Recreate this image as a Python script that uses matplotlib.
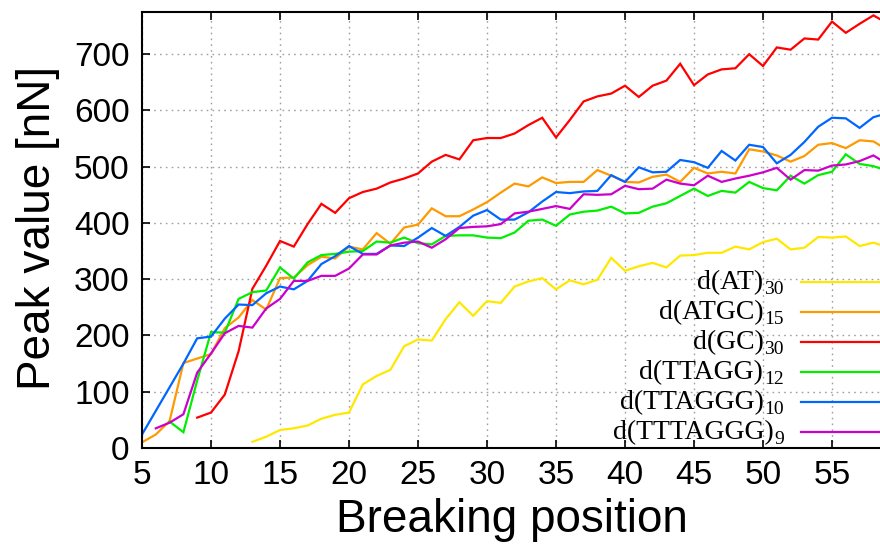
import matplotlib
matplotlib.use("Agg")
import matplotlib.pyplot as plt
from matplotlib.lines import Line2D

# ---- data ----
x_at = list(range(13, 60))
y_at = [11, 20, 32, 35, 40, 52, 59, 63, 113, 128, 139, 181, 193, 191, 229, 259, 235, 261, 258,
        287, 296, 302, 282, 298, 291, 299, 338, 315, 323, 329, 321, 342, 343, 347, 347, 358,
        353, 366, 372, 353, 356, 375, 374, 376, 359, 365, 357]

x_atgc = list(range(5, 60))
y_atgc = [10, 24, 48, 151, 159, 167, 213, 232, 263, 246, 302, 303, 325, 340, 337, 358, 353, 382,
          363, 392, 397, 426, 412, 412, 424, 437, 454, 470, 465, 481, 471, 473, 473, 494, 484,
          473, 472, 482, 486, 473, 498, 488, 491, 488, 531, 527, 520, 509, 519, 539, 542, 533,
          547, 545, 530]

x_gc = list(range(9, 60))
y_gc = [54, 63, 95, 172, 283, 324, 368, 358, 398, 434, 418, 444, 455, 461, 472, 479, 488, 509,
        521, 513, 547, 551, 551, 559, 574, 587, 552, 583, 616, 625, 630, 644, 624, 644, 653,
        683, 645, 664, 673, 675, 700, 679, 712, 708, 728, 726, 758, 738, 754, 769, 755]

x_ttagg = list(range(7, 60))
y_ttagg = [47, 28, 120, 206, 205, 265, 277, 280, 321, 301, 330, 343, 345, 349, 350, 367, 365,
           374, 364, 362, 377, 378, 378, 374, 373, 383, 404, 406, 395, 415, 420, 422, 429, 417,
           418, 429, 435, 448, 461, 448, 457, 454, 473, 462, 458, 484, 470, 485, 491, 522, 505,
           501, 493]

x_ttaggg = list(range(5, 60))
y_ttaggg = [24, 66, 108, 150, 195, 198, 230, 255, 254, 275, 287, 282, 297, 327, 341, 359, 345,
            345, 360, 359, 374, 391, 377, 393, 413, 423, 406, 406, 419, 438, 455, 453, 456, 457,
            485, 473, 499, 490, 491, 512, 508, 498, 528, 511, 539, 535, 506, 521, 544, 571, 587,
            586, 569, 588, 595]

x_tttaggg = list(range(6, 60))
y_tttaggg = [35, 45, 60, 134, 168, 204, 217, 214, 248, 265, 297, 297, 306, 306, 319, 344, 344,
             360, 365, 367, 356, 371, 391, 393, 394, 398, 417, 420, 425, 430, 425, 451, 450, 451,
             466, 460, 461, 477, 470, 467, 484, 473, 479, 484, 490, 498, 477, 494, 493, 502, 504,
             510, 520, 505]

label_main = ['d(AT)', 'd(ATGC)', 'd(GC)', 'd(TTAGG)', 'd(TTAGGG)', 'd(TTTAGGG)']
label_sub = ['30', '15', '30', '12', '10', '9']
colors = ['#ffe800', '#ff9900', '#ff0000', '#00ee00', '#0066ff', '#cc00cc']
series = [(x_at, y_at), (x_atgc, y_atgc), (x_gc, y_gc),
          (x_ttagg, y_ttagg), (x_ttaggg, y_ttaggg), (x_tttaggg, y_tttaggg)]

x_ticks = list(range(5, 56, 5))
y_ticks = list(range(0, 701, 100))

W, H = 880, 546
fig = plt.figure(figsize=(W / 100, H / 100), dpi=100)
left, right, top, bottom = 142, 901, 12, 448
ax = fig.add_axes([left / W, 1 - bottom / H, (right - left) / W, (bottom - top) / H])

for (xs, ys), c in zip(series, colors):
    ax.plot(xs, ys, color=c, lw=1.6, solid_joinstyle='miter')

ax.set_xlim(5, 60)
ax.set_ylim(0, 775)
ax.set_xticks(x_ticks)
ax.set_yticks(y_ticks)
ax.grid(True, color='#a0a0a0', linestyle=(0, (1.2, 3)), linewidth=1.0)
ax.tick_params(direction='in', length=6, width=1.2, top=True, right=True, pad=9)
for s in ax.spines.values():
    s.set_linewidth(1.5)

tick_font = ['Liberation Sans Narrow', 'Liberation Sans']
for lab in ax.get_xticklabels() + ax.get_yticklabels():
    lab.set_fontfamily(tick_font)
    lab.set_fontsize(24)
ax.set_xlabel('Breaking position', fontsize=33, family=tick_font)
ax.set_ylabel('Peak value [nN]', fontsize=33, family=tick_font)
ax.xaxis.set_label_coords((512 - left) / (right - left), -(520 - bottom) / (bottom - top) , transform=ax.transAxes)
ax.xaxis.label.set_va('center')
ax.yaxis.set_label_coords(-(left - 38) / (right - left), (bottom - 228) / (bottom - top), transform=ax.transAxes)
ax.yaxis.label.set_va('center')

# key (gnuplot style: right-aligned text, sample line on right)
renderer = fig.canvas.get_renderer()
text_right = 784
line_x0, line_x1 = 801, 895
y0 = 282
dy = 30
for i, (m, s, c) in enumerate(zip(label_main, label_sub, colors)):
    yy = y0 + i * dy
    st = fig.text(text_right / W, 1 - (yy + 8) / H, s, ha='right', va='center',
                  family='Liberation Serif', fontsize=14)
    bb = st.get_window_extent(renderer)
    fig.text((bb.x0 - 1) / W, 1 - (yy + 1) / H, m, ha='right', va='center',
             family='Liberation Serif', fontsize=20)
    fig.add_artist(Line2D([line_x0 / W, line_x1 / W], [1 - yy / H, 1 - yy / H],
                          color=c, lw=1.6, transform=fig.transFigure))

fig.savefig('out.png', dpi=100)
